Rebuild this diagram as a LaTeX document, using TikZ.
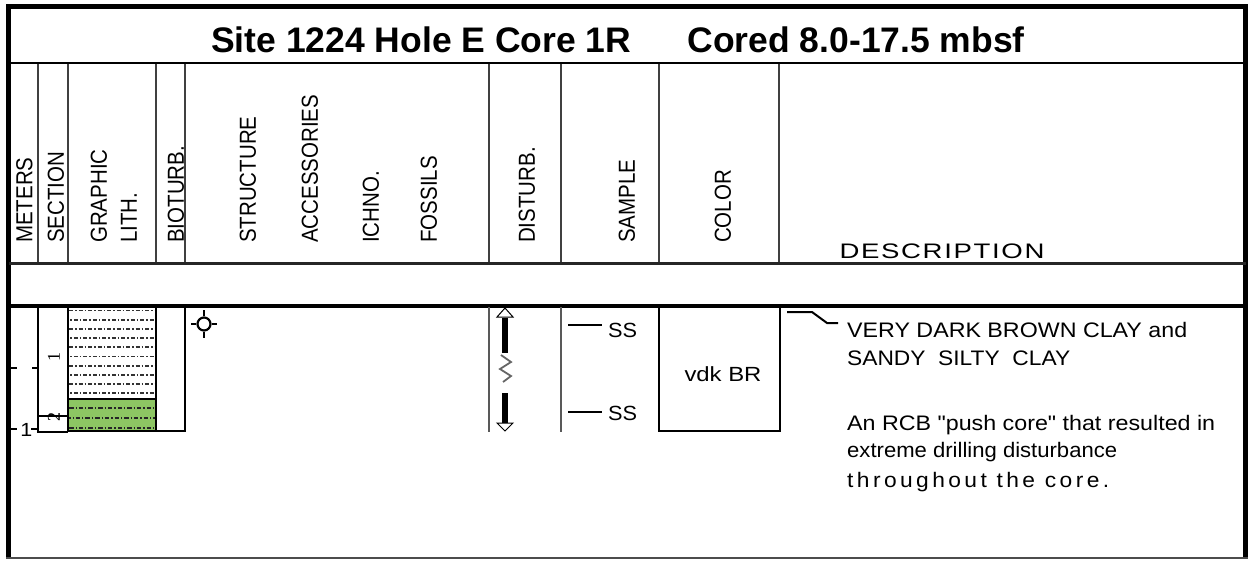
\documentclass[tikz,border=0pt]{standalone}
\usepackage{fontspec}
\usepackage{graphicx}
\setmainfont{Liberation Sans}
\newfontfamily\serfont{Liberation Serif}
\newfontfamily\plainsans[Ligatures=ResetAll]{Liberation Sans}
\newfontfamily\wideA[LetterSpace=15]{Liberation Sans}
\newfontfamily\wideB[LetterSpace=6]{Liberation Sans}
\newcommand\hdrfont{\fontsize{20.5}{24}\selectfont}
\newcommand\descfont{\fontsize{21}{24}\selectfont}
\newcommand\titlefont{\fontsize{35.5}{40}\selectfont\bfseries}
\newcommand\fitw[2]{\resizebox{#1pt}{\height}{#2}}
\newcommand\vtext[1]{\scalebox{1.13}[1]{\rotatebox{90}{#1}}}
\definecolor{lithgreen}{RGB}{141,198,99}
\begin{document}
\begin{tikzpicture}[x=1pt,y=-1pt,
  hdr/.style={anchor=south, inner sep=0pt, font=\hdrfont},
  txt/.style={inner sep=0pt, font=\hdrfont},
  dtxt/.style={inner sep=0pt, font=\descfont, anchor=base west},
  divline/.style={line width=1.5pt, draw=black!75},
  dataline/.style={line width=1.5pt, draw=black},
  grayline/.style={line width=2pt, draw=black!65},
  patt/.style={line width=1.8pt, draw=black!80, dash pattern=on 4pt off 2pt on 1.5pt off 2pt},
  tick/.style={line width=2pt}]
\useasboundingbox (0,0) rectangle (1248,560);

% outer frame
\draw[line width=5pt] (8.5,558) -- (8.5,6.5) -- (1245.5,6.5) -- (1245.5,558);
\draw[line width=2pt, draw=black!70] (6,558) -- (1248,558);
\draw[line width=2pt] (8.5,62.5) -- (1245.5,62.5);
\draw[line width=3pt, draw=black!85] (8.5,263.5) -- (1245.5,263.5);
\draw[line width=3.5pt] (8.5,306) -- (1245.5,306);

% title
\node[anchor=base, inner sep=0pt, font=\titlefont] (title) at (618,52)
  {Site 1224 Hole E Core 1R\hspace{1.58em}Cored 8.0-17.5 mbsf};

% header dividers
\foreach \xx in {38,68,156,185,489,561,659,779}
  \draw[divline] (\xx,63.5) -- (\xx,262);

% header texts
\node[hdr] (hMeters) at (24.5,243) {\vtext{METERS}};
\node[hdr] (hSection) at (56,243) {\vtext{SECTION}};
\node[hdr] (hGraphic) at (99,243) {\vtext{GRAPHIC}};
\node[hdr] (hLith) at (129,243) {\vtext{LITH.}};
\node[hdr] (hBioturb) at (176,243) {\vtext{BIOTURB.}};
\node[hdr] (hStructure) at (248,243) {\vtext{STRUCTURE}};
\node[hdr] (hAccess) at (310,243) {\vtext{ACCESSORIES}};
\node[hdr] (hIchno) at (371,243) {\vtext{ICHNO.}};
\node[hdr] (hFossils) at (429,243) {\vtext{FOSSILS}};
\node[hdr] (hDisturb) at (527,243) {\vtext{DISTURB.}};
\node[hdr] (hSample) at (627,243) {\vtext{SAMPLE}};
\node[hdr] (hColor) at (723,243) {\vtext{COLOR}};
\node[inner sep=0pt, anchor=base, font=\wideB\descfont] (hDesc) at (942,258) {\fitw{205}{DESCRIPTION}};

% metres scale
\draw[tick] (11,368) -- (17,368);
\draw[tick] (32,368) -- (38,368);
\draw[tick] (11,429) -- (17,429);
\draw[tick] (31,429) -- (38,429);
\node[txt, anchor=base east, font=\fontsize{19}{22}\selectfont] (m1) at (32.5,436) {\scalebox{1.13}[1]{1}};

% section column
\draw[dataline] (38,307) -- (38,432) -- (68,432);
\draw[dataline] (38,416) -- (68,416);
\node[rotate=90, inner sep=0pt, font=\serfont\fontsize{18}{20}\selectfont] (sec1) at (54,357) {1};
\node[rotate=90, inner sep=0pt, font=\serfont\fontsize{18}{20}\selectfont] (sec2) at (54,417) {2};

% graphic lithology
\fill[lithgreen] (68,399) rectangle (156,431);
\begin{scope}
  \clip (68,307) rectangle (156,399);
  \foreach \k in {0,...,9}{
    \pgfmathsetmacro\yy{310.5+9.2*\k}
    \pgfmathsetmacro\ph{mod(\k,2)*4.75}
    \draw[patt, dash phase=\ph pt] (69,\yy) -- (156,\yy);
  }
\end{scope}
\begin{scope}
  \clip (68,399) rectangle (156,431);
  \foreach \yy/\ph in {408/0,418/3,428/0}
    \draw[patt, draw=black!85, dash pattern=on 4.5pt off 2pt on 1.2pt off 2pt, dash phase=\ph pt] (69,\yy) -- (156,\yy);
\end{scope}
\draw[dataline] (68,307) -- (68,431) -- (156,431) -- (156,307);
\draw[dataline] (68,399) -- (156,399);

% bioturbation column
\draw[dataline] (156,431) -- (185,431) -- (185,307);

% structure symbol
\node[circle, draw, line width=2.2pt, minimum size=13pt, inner sep=0pt] (conc) at (204,324) {};
\draw[line width=2.6pt] (conc.east) -- ++(5,0);
\draw[line width=2.6pt] (conc.west) -- ++(-5,0);
\draw[line width=2.6pt] (conc.north) -- ++(0,-6);
\draw[line width=2.6pt] (conc.south) -- ++(0,6);

% disturbance column
\draw[grayline] (489,307) -- (489,432);
\draw[line width=1pt] (497,317) -- (513,317) -- (505,308) -- cycle;
\fill (502,318) rectangle (508,353);
\draw[line width=1.8pt, draw=black!60] (501,355) -- (511,362) -- (500,369) -- (511,376) -- (503,382);
\fill (502,393) rectangle (508,423);
\draw[line width=1pt] (497,423) -- (513,423) -- (505,431) -- cycle;

% sample column
\draw[grayline] (561,307) -- (561,432);
\node[txt, anchor=base west] (ss1) at (608,337) {\fitw{29}{SS}};
\node[txt, anchor=base west] (ss2) at (608,420) {\fitw{29}{SS}};
\draw[line width=1.8pt] (568,325) -- (602,325);
\draw[line width=1.8pt] (568,412) -- (602,412);

% colour column
\draw[dataline] (659,307) -- (659,431) -- (780,431) -- (780,307);
\node[txt, anchor=base] (col) at (723,381) {\fitw{77}{vdk BR}};

% description
\node[dtxt] (d1) at (847,337) {\fitw{340}{VERY DARK BROWN CLAY and}};
\node[dtxt] (d2) at (847,365) {\fitw{223}{SANDY\ \ SILTY\ \ CLAY}};
\node[dtxt, font=\plainsans\descfont] (d3) at (847,430) {\fitw{368}{An RCB "push core" that resulted in}};
\node[dtxt] (d4) at (847,457) {\fitw{270}{extreme drilling disturbance}};
\node[dtxt, font=\wideA\descfont] (d5) at (847,487) {\fitw{262}{throughout the core.}};
\draw[line width=2pt] (787,312) -- (812,312) -- (827,323) -- (838,323);
\end{tikzpicture}
\end{document}
